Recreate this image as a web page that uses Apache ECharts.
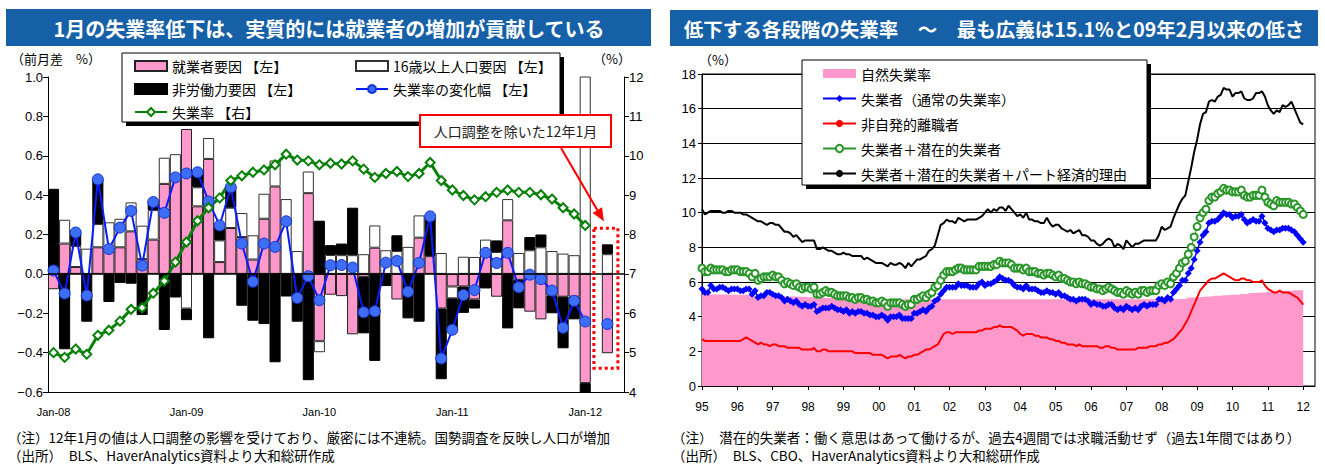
<!DOCTYPE html>
<html>
<head>
<meta charset="utf-8">
<script src="https://cdn.jsdelivr.net/npm/echarts@6/dist/echarts.min.js"></script>
<style>
html,body{margin:0;padding:0;background:#fff;}
#c{width:1325px;height:465px;}
</style>
</head>
<body>
<div id="c"></div>
<script>
// ---------- Left panel: monthly change in the unemployment rate and its factors ----------
const flowTickLabels = ['Jan-08', 'Jan-09', 'Jan-10', 'Jan-11', 'Jan-12'];
const monthAbbr = ['Jan','Feb','Mar','Apr','May','Jun','Jul','Aug','Sep','Oct','Nov','Dec'];

// 就業者要因 (index 0-48: Jan-08..Jan-12, 49: gap, 50: Jan-12 excluding population adjustment, 51: gap)
const employedFactor = [
  -0.078, 0.154, 0.035, null, 0.135, 0.135, 0.135, 0.216, 0.075, 0.174, 0.457, 0.50,
  0.736, 0.343, 0.584, 0.06, 0.233, 0.187, 0.073, 0.28, 0.444, null, null, 0.41,
  -0.342, -0.106, -0.113, -0.307, -0.015, 0.133, null, -0.13, null, 0.184, 0.09, -0.176,
  -0.064, -0.064, -0.13, 0.10, -0.116, 0.272, -0.03, -0.192, -0.231, -0.11, -0.116, -0.116,
  -0.555, null, -0.403, null
];
// 16歳以上人口要因
const populationFactor = [
  null, 0.121, 0.107, 0.128, 0.118, 0.127, 0.145, 0.147, 0.17, 0.15, 0.133, 0.108,
  -0.176, 0.097, 0.106, 0.11, 0.103, 0.122, 0.123, 0.127, 0.132, 0.38, 0.116, 0.11,
  -0.056, 0.096, 0.095, 0.095, 0.10, 0.113, 0.12, 0.116, 0.137, 0.113, null, 0.106,
  -0.06, 0.087, 0.086, 0.074, 0.111, 0.108, 0.106, 0.12, 0.135, 0.116, 0.103, 0.095,
  1.2, null, 0.10, null
];
// 非労働力要因
const notInLaborFactor = [
  0.432, -0.383, 0.068, -0.243, 0.23, -0.143, -0.046, -0.05, -0.209, 0.04, -0.285, -0.12,
  -0.059, 0.08, -0.327, 0.075, 0.104, -0.162, -0.238, -0.255, -0.449, -0.115, -0.243, -0.54,
  0.27, 0.05, 0.059, 0.241, -0.287, -0.442, -0.062, 0.08, -0.226, -0.243, 0.20, -0.359,
  -0.16, -0.134, -0.046, -0.074, 0.059, -0.277, -0.145, 0.067, 0.065, -0.09, -0.262, -0.115,
  -0.885, null, 0.05, null
];
// 失業率の変化幅 (前月差, %pt)
const rateChange = [
  0.017, -0.10, 0.21, -0.11, 0.48, 0.126, 0.235, 0.32, 0.042, 0.365, 0.31, 0.49,
  0.51, 0.516, 0.368, 0.246, 0.44, 0.154, -0.04, 0.154, 0.137, 0.267, -0.122, -0.012,
  -0.134, 0.044, 0.045, 0.032, -0.195, -0.19, 0.057, 0.066, -0.091, 0.056, 0.292, -0.43,
  -0.284, -0.107, -0.082, 0.107, 0.055, 0.107, -0.068, -0.004, -0.027, -0.085, -0.274, -0.137,
  -0.242, null, -0.255, null
];
// 失業率 (%)
const unemploymentRate = [
  5.0, 4.88, 5.09, 4.96, 5.44, 5.57, 5.80, 6.10, 6.14, 6.51, 6.82, 7.30,
  7.81, 8.35, 8.68, 8.93, 9.37, 9.49, 9.58, 9.64, 9.77, 10.04, 9.89, 9.87,
  9.77, 9.81, 9.79, 9.87, 9.66, 9.45, 9.55, 9.60, 9.47, 9.55, 9.83, 9.37,
  9.13, 8.99, 8.88, 8.96, 9.07, 9.13, 9.07, 9.07, 9.01, 8.90, 8.68, 8.52,
  8.23
];

// ---------- Right panel: measures of labor underutilization, Jan-1995..Jan-2012 ----------
const yearTickLabels = ['95','96','97','98','99','00','01','02','03','04','05','06','07','08','09','10','11','12'];

// 失業者（通常の失業率）
const officialRate = [
  5.6, 5.4, 5.4, 5.8, 5.6, 5.6, 5.7, 5.7, 5.6, 5.5, 5.6, 5.6,
  5.6, 5.5, 5.5, 5.6, 5.6, 5.3, 5.5, 5.1, 5.2, 5.2, 5.4, 5.4,
  5.3, 5.2, 5.2, 5.1, 4.9, 5.0, 4.9, 4.8, 4.9, 4.7, 4.6, 4.7,
  4.6, 4.6, 4.7, 4.3, 4.4, 4.5, 4.5, 4.5, 4.6, 4.5, 4.4, 4.4,
  4.3, 4.4, 4.2, 4.3, 4.2, 4.3, 4.3, 4.2, 4.2, 4.1, 4.1, 4.0,
  4.0, 4.1, 4.0, 3.8, 4.0, 4.0, 4.0, 4.1, 3.9, 3.9, 3.9, 3.9,
  4.2, 4.2, 4.3, 4.4, 4.3, 4.5, 4.6, 4.9, 5.0, 5.3, 5.5, 5.7,
  5.7, 5.7, 5.7, 5.9, 5.8, 5.8, 5.8, 5.7, 5.7, 5.7, 5.9, 6.0,
  5.8, 5.9, 5.9, 6.0, 6.1, 6.3, 6.2, 6.1, 6.1, 6.0, 5.8, 5.7,
  5.7, 5.6, 5.8, 5.6, 5.6, 5.6, 5.5, 5.4, 5.4, 5.5, 5.4, 5.4,
  5.3, 5.4, 5.2, 5.2, 5.1, 5.0, 5.0, 4.9, 5.0, 5.0, 5.0, 4.9,
  4.7, 4.8, 4.7, 4.7, 4.6, 4.6, 4.7, 4.7, 4.5, 4.4, 4.5, 4.4,
  4.6, 4.5, 4.4, 4.5, 4.4, 4.6, 4.7, 4.6, 4.7, 4.7, 4.7, 5.0,
  5.0, 4.9, 5.1, 5.0, 5.4, 5.6, 5.8, 6.1, 6.1, 6.5, 6.8, 7.3,
  7.8, 8.3, 8.7, 8.9, 9.4, 9.5, 9.5, 9.6, 9.8, 10.0, 9.9, 9.9,
  9.7, 9.8, 9.8, 9.9, 9.6, 9.4, 9.5, 9.6, 9.5, 9.5, 9.8, 9.4,
  9.1, 9.0, 8.9, 9.0, 9.0, 9.1, 9.1, 9.1, 9.0, 8.9, 8.7, 8.5,
  8.3
];
// 非自発的離職者
const jobLosers = [
  2.7, 2.6, 2.6, 2.6, 2.6, 2.6, 2.6, 2.6, 2.6, 2.6, 2.6, 2.6,
  2.6, 2.6, 2.7, 2.8, 2.7, 2.6, 2.5, 2.4, 2.5, 2.4, 2.4, 2.3,
  2.4, 2.4, 2.3, 2.3, 2.3, 2.2, 2.2, 2.2, 2.2, 2.2, 2.1, 2.1,
  2.1, 2.1, 2.2, 2.0, 2.0, 2.1, 2.1, 2.0, 2.0, 2.0, 2.0, 2.0,
  2.0, 2.0, 2.0, 2.0, 1.9, 1.9, 1.9, 1.9, 1.9, 1.9, 1.8, 1.8,
  1.8, 1.8, 1.7, 1.6, 1.7, 1.7, 1.7, 1.8, 1.7, 1.6, 1.7, 1.7,
  1.8, 1.8, 1.9, 2.0, 2.1, 2.1, 2.2, 2.3, 2.4, 2.7, 3.0, 3.1,
  3.1, 3.0, 3.1, 3.1, 3.1, 3.1, 3.1, 3.1, 3.1, 3.1, 3.2, 3.2,
  3.3, 3.3, 3.3, 3.4, 3.4, 3.5, 3.4, 3.4, 3.4, 3.4, 3.3, 3.2,
  3.0, 2.9, 3.0, 3.0, 3.0, 2.9, 2.9, 2.8, 2.8, 2.8, 2.7, 2.7,
  2.6, 2.6, 2.5, 2.5, 2.4, 2.4, 2.4, 2.3, 2.4, 2.3, 2.3, 2.3,
  2.3, 2.3, 2.3, 2.2, 2.2, 2.3, 2.3, 2.2, 2.2, 2.1, 2.1, 2.1,
  2.1, 2.1, 2.1, 2.1, 2.2, 2.2, 2.2, 2.2, 2.3, 2.3, 2.3, 2.4,
  2.4, 2.5, 2.5, 2.6, 2.7, 2.9, 3.1, 3.3, 3.6, 3.9, 4.3, 4.7,
  5.1, 5.5, 5.7, 5.9, 6.1, 6.2, 6.2, 6.3, 6.4, 6.5, 6.4, 6.3,
  6.2, 6.1, 6.1, 6.2, 6.2, 6.1, 6.1, 6.0, 6.0, 6.0, 6.1, 5.8,
  5.6, 5.5, 5.4, 5.4, 5.5, 5.4, 5.4, 5.4, 5.3, 5.2, 5.1, 4.9,
  4.7
];
// 失業者＋潜在的失業者
const withMarginal = [
  6.8, 6.6, 6.6, 6.8, 6.7, 6.7, 6.7, 6.7, 6.6, 6.6, 6.7, 6.7,
  6.7, 6.6, 6.6, 6.6, 6.5, 6.3, 6.5, 6.1, 6.2, 6.3, 6.3, 6.3,
  6.4, 6.3, 6.3, 6.1, 5.9, 6.0, 5.9, 5.8, 5.9, 5.7, 5.6, 5.7,
  5.7, 5.6, 5.7, 5.3, 5.3, 5.4, 5.5, 5.4, 5.4, 5.3, 5.2, 5.2,
  5.2, 5.2, 5.1, 5.1, 5.0, 5.1, 5.1, 5.0, 5.0, 4.9, 4.9, 4.8,
  4.8, 4.9, 4.8, 4.6, 4.8, 4.8, 4.8, 4.8, 4.7, 4.6, 4.7, 4.7,
  5.0, 5.0, 5.1, 5.2, 5.1, 5.3, 5.4, 5.7, 5.8, 6.1, 6.4, 6.6,
  6.6, 6.6, 6.7, 6.8, 6.8, 6.7, 6.7, 6.7, 6.7, 6.7, 6.9, 6.9,
  6.9, 6.9, 6.9, 7.0, 7.0, 7.2, 7.1, 7.1, 7.1, 7.0, 6.8, 6.8,
  6.8, 6.7, 6.8, 6.6, 6.6, 6.6, 6.5, 6.5, 6.4, 6.5, 6.5, 6.4,
  6.3, 6.4, 6.2, 6.2, 6.1, 6.0, 6.0, 5.9, 6.0, 5.9, 5.9, 5.8,
  5.7, 5.7, 5.6, 5.6, 5.5, 5.6, 5.7, 5.6, 5.5, 5.4, 5.4, 5.3,
  5.5, 5.4, 5.3, 5.4, 5.3, 5.5, 5.5, 5.4, 5.5, 5.5, 5.5, 5.8,
  5.9, 5.8, 6.0, 5.9, 6.3, 6.5, 6.8, 7.1, 7.2, 7.6, 8.0, 8.6,
  9.2, 9.7, 10.0, 10.2, 10.7, 10.9, 10.9, 11.1, 11.2, 11.4, 11.3, 11.3,
  11.2, 11.2, 11.2, 11.3, 11.0, 10.9, 10.9, 11.0, 11.0, 11.0, 11.3, 10.9,
  10.6, 10.5, 10.4, 10.7, 10.6, 10.6, 10.6, 10.6, 10.5, 10.5, 10.3, 10.1,
  9.9
];
// 失業者＋潜在的失業者＋パート経済的理由
const broadestRate = [
  10.2, 9.9, 10.0, 10.1, 10.1, 10.1, 10.1, 10.0, 10.0, 10.1, 10.1, 10.0,
  10.0, 10.0, 9.9, 9.9, 9.8, 9.7, 9.6, 9.5, 9.5, 9.4, 9.3, 9.4,
  9.4, 9.3, 9.3, 9.1, 8.9, 8.9, 8.8, 8.6, 8.7, 8.5, 8.3, 8.4,
  8.4, 8.4, 8.4, 7.9, 7.9, 8.0, 7.9, 7.8, 7.8, 7.7, 7.6, 7.6,
  7.7, 7.6, 7.6, 7.5, 7.5, 7.5, 7.5, 7.3, 7.4, 7.3, 7.2, 7.1,
  7.1, 7.1, 7.0, 6.9, 7.1, 7.0, 7.0, 7.1, 7.0, 6.8, 7.1, 6.9,
  7.1, 7.3, 7.3, 7.4, 7.5, 7.8, 7.9, 8.1, 8.7, 9.3, 9.4, 9.6,
  9.5, 9.5, 9.4, 9.7, 9.6, 9.5, 9.6, 9.6, 9.6, 9.6, 9.7, 9.8,
  10.0, 10.2, 10.0, 10.2, 10.1, 10.3, 10.3, 10.1, 10.4, 10.2, 10.0, 9.8,
  9.9, 9.7, 10.0, 9.6, 9.6, 9.5, 9.5, 9.4, 9.4, 9.7, 9.4, 9.2,
  9.3, 9.3, 9.1, 9.0, 8.9, 9.0, 8.8, 8.9, 9.0, 8.7, 8.7, 8.6,
  8.4, 8.4, 8.2, 8.1, 8.2, 8.4, 8.5, 8.4, 8.0, 8.2, 8.1, 7.9,
  8.4, 8.2, 8.0, 8.2, 8.2, 8.3, 8.4, 8.4, 8.4, 8.4, 8.4, 8.7,
  9.2, 9.0, 9.1, 9.2, 9.7, 10.1, 10.5, 10.8, 11.0, 11.8, 12.6, 13.5,
  14.2, 15.1, 15.7, 15.8, 16.4, 16.5, 16.4, 16.7, 16.8, 17.2, 17.1, 17.1,
  16.7, 16.9, 16.9, 17.0, 16.6, 16.5, 16.5, 16.6, 16.9, 16.9, 17.0, 16.7,
  16.2, 15.9, 15.7, 15.9, 15.8, 16.2, 16.1, 16.2, 16.4, 16.0, 15.6, 15.2,
  15.1
];
// 自然失業率 (quarterly, 1995Q1..2012Q1)
const naturalRateQ = [
  5.28, 5.28, 5.28, 5.27,  5.27, 5.26, 5.20, 5.20,  5.18, 5.17, 5.16, 5.15,
  5.12, 5.10, 5.07, 5.06,  5.05, 5.04, 5.03, 5.02,  5.00, 5.00, 5.00, 5.00,
  5.00, 5.00, 5.00, 5.00,  5.00, 5.00, 5.00, 5.00,  5.00, 5.00, 5.00, 5.00,
  5.00, 5.00, 5.00, 5.00,  5.00, 5.00, 5.00, 5.00,  5.00, 5.00, 5.00, 5.00,
  5.00, 5.00, 5.00, 5.00,  5.00, 5.00, 5.02, 5.10,  5.13, 5.17, 5.20, 5.24,
  5.27, 5.31, 5.36, 5.40,  5.44, 5.48, 5.50, 5.52,  5.52
];

// ---------- Categories ----------
const flowCats = [];
for (let i = 0; i < 49; i++) {
  flowCats.push(monthAbbr[i % 12] + '-' + String(8 + Math.floor(i / 12)).padStart(2, '0'));
}
flowCats.push('', '人口調整後', '');

const rateMonths = [];
for (let i = 0; i < 209; i++) {
  rateMonths.push(String(1995 + Math.floor(i / 12)) + '-' + String(i % 12 + 1).padStart(2, '0'));
}
// quarterly natural rate held constant through each quarter's months
const naturalRate = officialRate.map((_, m) => naturalRateQ[Math.floor(m / 3)]);

const JP = "'Noto Sans CJK JP', 'Noto Sans', sans-serif";
const NUM = "'Liberation Sans', Arial, sans-serif";

const N_EMP = '就業者要因 【左】';
const N_POP = '16歳以上人口要因 【左】';
const N_NLF = '非労働力要因 【左】';
const N_CHG = '失業率の変化幅 【左】';
const N_RATE = '失業率 【右】';
const N_NAT = '自然失業率';
const N_U3 = '失業者（通常の失業率）';
const N_U2 = '非自発的離職者';
const N_U5 = '失業者＋潜在的失業者';
const N_U6 = '失業者＋潜在的失業者＋パート経済的理由';

const barBorder = { borderColor: '#222', borderWidth: 1 };
const axisBlack = { lineStyle: { color: '#000', width: 1 } };
const fmtSigned = v => (v < -1e-9 ? '\u2212' : '') + Math.abs(v).toFixed(1);
const isJan = idx => idx % 12 === 0;

const chart = echarts.init(document.getElementById('c'), null, { renderer: 'svg', width: 1325, height: 465 });

const option = {
  animation: false,
  backgroundColor: '#fff',
  textStyle: { fontFamily: JP },
  grid: [
    { left: 48, top: 77, width: 576, height: 315 },
    { left: 702, top: 74, width: 613, height: 312, show: true, borderColor: '#000', borderWidth: 1, backgroundColor: 'transparent' }
  ],
  xAxis: [
    {
      type: 'category', gridIndex: 0, data: flowCats, boundaryGap: true,
      axisLine: { onZero: false, lineStyle: { color: '#000', width: 1 } },
      axisTick: { show: false },
      axisLabel: { interval: 11, color: '#000', fontFamily: NUM, fontSize: 11, margin: 14 }
    },
    {
      type: 'category', gridIndex: 1, data: rateMonths, boundaryGap: false,
      axisLine: { onZero: false, lineStyle: { color: '#000', width: 1 } },
      axisTick: { interval: isJan, length: 4, lineStyle: { color: '#000' } },
      axisLabel: {
        interval: isJan, color: '#000', fontFamily: NUM, fontSize: 12, margin: 15,
        formatter: v => yearTickLabels[Number(v.slice(0, 4)) - 1995]
      },
      splitLine: { show: false }
    }
  ],
  yAxis: [
    {
      type: 'value', gridIndex: 0, min: -0.6, max: 1.0, interval: 0.2,
      axisLine: { show: true, ...axisBlack },
      axisTick: { show: true, length: 5, ...axisBlack },
      axisLabel: { color: '#000', fontFamily: NUM, fontSize: 13, margin: 5, formatter: fmtSigned },
      splitLine: { show: false }
    },
    {
      type: 'value', gridIndex: 0, position: 'right', min: 4, max: 12, interval: 1,
      axisLine: { show: true, ...axisBlack },
      axisTick: { show: true, length: 5, ...axisBlack },
      axisLabel: { color: '#000', fontFamily: NUM, fontSize: 13, margin: 5 },
      splitLine: { show: false }
    },
    {
      type: 'value', gridIndex: 1, min: 0, max: 18, interval: 2,
      axisLine: { show: true, ...axisBlack },
      axisTick: { show: true, length: 4, ...axisBlack },
      axisLabel: { color: '#000', fontFamily: NUM, fontSize: 13, margin: 6 },
      splitLine: { show: true, lineStyle: { color: '#000', width: 1 } }
    }
  ],
  legend: [
    {
      left: 134, top: 59, orient: 'vertical', padding: 0, itemGap: 9, itemWidth: 32, itemHeight: 10,
      selectedMode: false, z: 10,
      textStyle: { fontFamily: JP, fontSize: 14, lineHeight: 14, color: '#000' },
      data: [
        { name: N_EMP, icon: 'rect' },
        { name: N_NLF, icon: 'rect' },
        { name: N_RATE }
      ]
    },
    {
      left: 355, top: 59, orient: 'vertical', padding: 0, itemGap: 9, itemWidth: 32, itemHeight: 10,
      selectedMode: false, z: 10,
      textStyle: { fontFamily: JP, fontSize: 14, lineHeight: 14, color: '#000' },
      data: [
        { name: N_POP, icon: 'rect' },
        { name: N_CHG }
      ]
    },
    {
      left: 822, top: 66, orient: 'vertical', padding: 0, itemGap: 10, itemWidth: 33, itemHeight: 9,
      selectedMode: false, z: 10,
      textStyle: { fontFamily: JP, fontSize: 14, lineHeight: 15, color: '#000' },
      data: [
        { name: N_NAT, icon: 'rect', itemStyle: { color: '#ff99cc', borderWidth: 0 } },
        { name: N_U3 },
        { name: N_U2 },
        { name: N_U5 },
        { name: N_U6 }
      ]
    }
  ],
  series: [
    {
      name: N_EMP, type: 'bar', xAxisIndex: 0, yAxisIndex: 0, stack: 'factors',
      barCategoryGap: '0%', clip: true, data: employedFactor,
      itemStyle: { color: '#ff99cc', ...barBorder }
    },
    {
      name: N_POP, type: 'bar', xAxisIndex: 0, yAxisIndex: 0, stack: 'factors',
      barCategoryGap: '0%', clip: true, data: populationFactor,
      itemStyle: { color: '#ffffff', borderColor: '#333', borderWidth: 1 }
    },
    {
      name: N_NLF, type: 'bar', xAxisIndex: 0, yAxisIndex: 0, stack: 'factors',
      barCategoryGap: '0%', clip: true, data: notInLaborFactor,
      itemStyle: { color: '#000000', borderColor: '#000', borderWidth: 1 },
      markLine: {
        silent: true, symbol: 'none', label: { show: false },
        lineStyle: { color: '#000', width: 1.5, type: 'solid' },
        data: [{ yAxis: 0 }]
      }
    },
    {
      name: N_CHG, type: 'line', xAxisIndex: 0, yAxisIndex: 0, data: rateChange,
      connectNulls: false, showAllSymbol: true, symbol: 'circle', symbolSize: 11,
      lineStyle: { color: '#0a1cff', width: 2 },
      itemStyle: { color: '#3d6ef5', borderColor: '#1533d6', borderWidth: 1 }
    },
    {
      name: N_RATE, type: 'line', xAxisIndex: 0, yAxisIndex: 1, data: unemploymentRate,
      showAllSymbol: true, symbol: 'emptyDiamond', symbolSize: 9,
      lineStyle: { color: '#078007', width: 3 },
      itemStyle: { color: '#078007', borderWidth: 1.5 }
    },
    {
      name: N_NAT, type: 'line', xAxisIndex: 1, yAxisIndex: 2, data: naturalRate,
      symbol: 'none', lineStyle: { width: 0, color: '#ff99cc' },
      itemStyle: { color: '#ff99cc' },
      areaStyle: { color: '#ff99cc', opacity: 1 }
    },
    {
      name: N_U3, type: 'line', xAxisIndex: 1, yAxisIndex: 2, data: officialRate,
      showAllSymbol: true, symbol: 'diamond', symbolSize: 7,
      lineStyle: { color: '#0000ff', width: 1.5 },
      itemStyle: { color: '#0000ff' }
    },
    {
      name: N_U2, type: 'line', xAxisIndex: 1, yAxisIndex: 2, data: jobLosers,
      symbol: 'none', lineStyle: { color: '#ff0000', width: 2 },
      itemStyle: { color: '#ff0000' }
    },
    {
      name: N_U5, type: 'line', xAxisIndex: 1, yAxisIndex: 2, data: withMarginal,
      showAllSymbol: true, symbol: 'emptyCircle', symbolSize: 7,
      lineStyle: { color: '#2a962a', width: 1 },
      itemStyle: { color: '#2a962a', borderWidth: 1 }
    },
    {
      name: N_U6, type: 'line', xAxisIndex: 1, yAxisIndex: 2, data: broadestRate,
      symbol: 'none', lineStyle: { color: '#000', width: 2 },
      itemStyle: { color: '#000' }
    }
  ]
};

chart.setOption(option);

// ---------- Titles, legend frames, notes and the Jan-12 call-out ----------
const adjIdx = 50;
const adjTop = (populationFactor[adjIdx] || 0) + (notInLaborFactor[adjIdx] || 0);
const adjBottom = employedFactor[adjIdx];
const pTop = chart.convertToPixel({ xAxisIndex: 0, yAxisIndex: 0 }, [adjIdx, adjTop]);
const pBot = chart.convertToPixel({ xAxisIndex: 0, yAxisIndex: 0 }, [adjIdx, adjBottom]);
const cx = pTop[0] - 1.5;
const boxTop = pTop[1] - 16;
const boxBottom = pBot[1] + 15;

// arrow from the label box down to the dotted frame
const arrowStart = [561, 148];
const arrowTip = [cx - 2, boxTop - 7];
const dx = arrowTip[0] - arrowStart[0], dy = arrowTip[1] - arrowStart[1];
const len = Math.hypot(dx, dy), ux = dx / len, uy = dy / len;
const headLen = 13, headHalf = 5.5;
const base = [arrowTip[0] - ux * headLen, arrowTip[1] - uy * headLen];

const TITLE_BLUE = '#1660a8';
const NOTE_FONT = '13.5px ' + JP;
const graphic = [
  { type: 'rect', z: 1, shape: { x: 6, y: 9, width: 645, height: 37 }, style: { fill: TITLE_BLUE } },
  { type: 'text', z: 2, x: 329, y: 28, style: { text: '1月の失業率低下は、実質的には就業者の増加が貢献している', fill: '#fff', font: 'bold 20px ' + JP, align: 'center', verticalAlign: 'middle' } },
  { type: 'rect', z: 1, shape: { x: 670, y: 10, width: 648, height: 36 }, style: { fill: TITLE_BLUE } },
  { type: 'text', z: 2, x: 994, y: 28, style: { text: '低下する各段階の失業率　～　最も広義は15.1%と09年2月以来の低さ', fill: '#fff', font: 'bold 19.5px ' + JP, align: 'center', verticalAlign: 'middle' } },

  { type: 'text', z: 2, x: 11, y: 58, style: { text: '（前月差　%）', fill: '#000', font: '13px ' + JP, align: 'left', verticalAlign: 'middle' } },
  { type: 'text', z: 2, x: 612, y: 58, style: { text: '（%）', fill: '#000', font: '13px ' + JP, align: 'center', verticalAlign: 'middle' } },
  { type: 'text', z: 2, x: 718, y: 59, style: { text: '（%）', fill: '#000', font: '13px ' + JP, align: 'center', verticalAlign: 'middle' } },

  // legend frames with drop shadow
  { type: 'rect', z: 5, shape: { x: 126, y: 57, width: 438, height: 69 }, style: { fill: '#000' } },
  { type: 'rect', z: 5, shape: { x: 122, y: 53, width: 438, height: 69 }, style: { fill: '#fff', stroke: '#000', lineWidth: 1 } },
  { type: 'rect', z: 5, shape: { x: 806, y: 64, width: 345, height: 125 }, style: { fill: '#000' } },
  { type: 'rect', z: 5, shape: { x: 802, y: 60, width: 345, height: 125 }, style: { fill: '#fff', stroke: '#000', lineWidth: 1 } },

  // call-out for January 2012 excluding the population adjustment
  { type: 'rect', z: 6, shape: { x: 420, y: 115, width: 191, height: 32 }, style: { fill: '#fff', stroke: '#ff0000', lineWidth: 2 } },
  { type: 'text', z: 7, x: 515.5, y: 131, style: { text: '人口調整を除いた12年1月', fill: '#222', font: '14px ' + JP, align: 'center', verticalAlign: 'middle' } },
  { type: 'line', z: 6, shape: { x1: arrowStart[0], y1: arrowStart[1], x2: base[0], y2: base[1] }, style: { stroke: '#ff0000', lineWidth: 2 } },
  { type: 'polygon', z: 6, shape: { points: [arrowTip, [base[0] - uy * headHalf, base[1] + ux * headHalf], [base[0] + uy * headHalf, base[1] - ux * headHalf]] }, style: { fill: '#ff0000' } },
  { type: 'rect', z: 6, shape: { x: cx - 12, y: boxTop, width: 24, height: boxBottom - boxTop }, style: { fill: 'none', stroke: '#ff0000', lineWidth: 3, lineDash: [3, 3] } },

  // notes
  { type: 'text', z: 2, x: 8, y: 437, style: { text: '（注）12年1月の値は人口調整の影響を受けており、厳密には不連続。国勢調査を反映し人口が増加', fill: '#000', font: NOTE_FONT, align: 'left', verticalAlign: 'middle' } },
  { type: 'text', z: 2, x: 8, y: 455, style: { text: '（出所）　BLS、HaverAnalytics資料より大和総研作成', fill: '#000', font: NOTE_FONT, align: 'left', verticalAlign: 'middle' } },
  { type: 'text', z: 2, x: 672, y: 437, style: { text: '（注）　潜在的失業者：働く意思はあって働けるが、過去4週間では求職活動せず（過去1年間ではあり）', fill: '#000', font: NOTE_FONT, align: 'left', verticalAlign: 'middle' } },
  { type: 'text', z: 2, x: 672, y: 455, style: { text: '（出所）　BLS、CBO、HaverAnalytics資料より大和総研作成', fill: '#000', font: NOTE_FONT, align: 'left', verticalAlign: 'middle' } }
];

chart.setOption({ graphic: graphic });
</script>
</body>
</html>
